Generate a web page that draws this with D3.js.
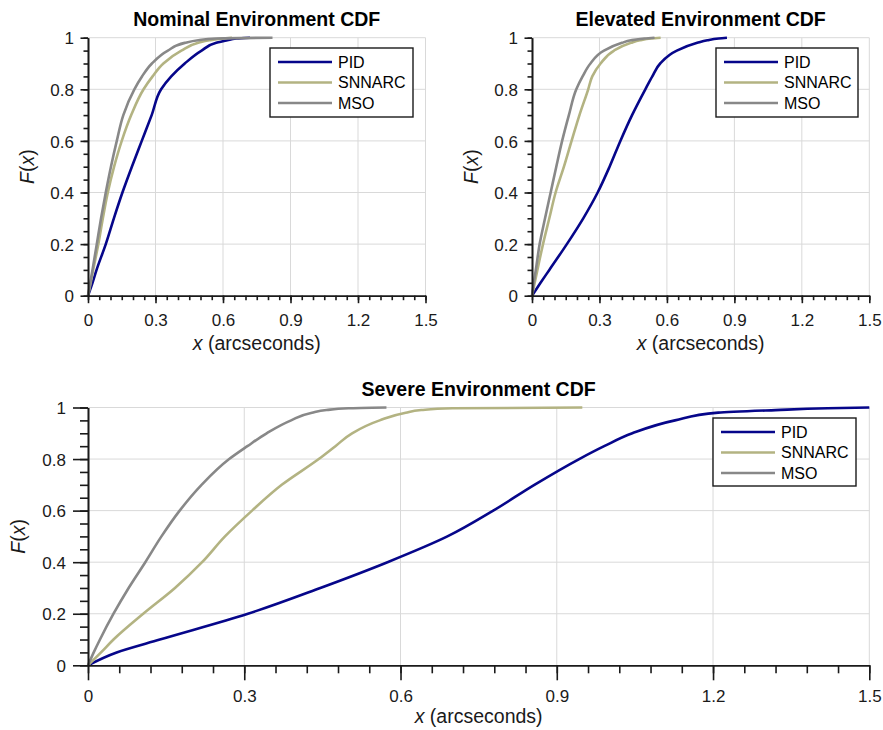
<!DOCTYPE html>
<html>
<head>
<meta charset="utf-8">
<script src="https://cdn.jsdelivr.net/npm/d3@7"></script>
<style>
  body { margin: 0; background: #fff; }
  svg { display: block; font-family: "Liberation Sans", Arial, Helvetica, sans-serif; }
  .grid line { stroke: #d9d9d9; stroke-width: 1; }
  .axis path, .axis line { stroke: #1a1a1a; stroke-width: 1.6; }
  .axis text { fill: #1a1a1a; font-size: 17px; }
</style>
</head>
<body>
<div id="chart"></div>
<script>
// cumulative probability levels, x at each level (arcseconds)
const fLevels = [0, 0.05, 0.1, 0.2, 0.3, 0.4, 0.5, 0.6, 0.7, 0.8, 0.85, 0.9, 0.95, 0.98, 0.99, 0.997, 1];

const nominalPID    = [0, 0.02, 0.038, 0.079, 0.115, 0.153, 0.195, 0.239, 0.283, 0.325, 0.37, 0.43, 0.505, 0.57, 0.62, 0.66, 0.72];
const nominalSNNARC = [0, 0.012, 0.023, 0.046, 0.066, 0.088, 0.116, 0.150, 0.192, 0.247, 0.287, 0.335, 0.415, 0.49, 0.54, 0.60, 0.64];
const nominalMSO    = [0, 0.01, 0.02, 0.039, 0.058, 0.079, 0.102, 0.128, 0.157, 0.206, 0.24, 0.284, 0.355, 0.43, 0.49, 0.57, 0.82];

const elevatedPID    = [0, 0.038, 0.077, 0.155, 0.228, 0.292, 0.345, 0.393, 0.445, 0.504, 0.535, 0.57, 0.644, 0.735, 0.78, 0.83, 0.867];
const elevatedSNNARC = [0, 0.012, 0.024, 0.049, 0.077, 0.105, 0.142, 0.176, 0.211, 0.25, 0.268, 0.305, 0.365, 0.44, 0.48, 0.53, 0.572];
const elevatedMSO    = [0, 0.008, 0.017, 0.034, 0.058, 0.083, 0.108, 0.134, 0.164, 0.197, 0.225, 0.26, 0.32, 0.40, 0.44, 0.50, 0.545];

const severePID    = [0, 0.055, 0.138, 0.307, 0.446, 0.575, 0.690, 0.778, 0.857, 0.943, 0.991, 1.045, 1.127, 1.21, 1.32, 1.42, 1.5];
const severeSNNARC = [0, 0.025, 0.049, 0.106, 0.167, 0.219, 0.263, 0.315, 0.372, 0.443, 0.475, 0.507, 0.56, 0.61, 0.64, 0.70, 0.949];
const severeMSO    = [0, 0.011, 0.023, 0.049, 0.078, 0.11, 0.141, 0.176, 0.218, 0.271, 0.306, 0.343, 0.39, 0.43, 0.458, 0.50, 0.573];

const seriesNames = ["PID", "SNNARC", "MSO"];
const seriesColors = ["#06068a", "#b3b382", "#888888"];

const xTicks = [0, 0.3, 0.6, 0.9, 1.2, 1.5];
const yTicks = [0, 0.2, 0.4, 0.6, 0.8, 1];
const yMinor = d3.range(0, 1.0001, 0.05);

const width = 883, height = 730;

const panels = [
  { title: "Nominal Environment CDF", series: [nominalPID, nominalSNNARC, nominalMSO],
    left: 88, right: 425.5, top: 37.7, bottom: 295.7, minorStep: 0.05, major: 7.5, minor: 4.5,
    titleDy: -12, xLabDy: 30, axisLabDy: 54, yLabDx: -14, yTitleDx: -61,
    legend: { x: 270, y: 48, w: 143, h: 69 } },
  { title: "Elevated Environment CDF", series: [elevatedPID, elevatedSNNARC, elevatedMSO],
    left: 532, right: 869.3, top: 37.7, bottom: 295.7, minorStep: 0.05, major: 7.5, minor: 4.5,
    titleDy: -12, xLabDy: 30, axisLabDy: 54, yLabDx: -14, yTitleDx: -61,
    legend: { x: 716, y: 48, w: 142, h: 69 } },
  { title: "Severe Environment CDF", series: [severePID, severeSNNARC, severeMSO],
    left: 88, right: 869.3, top: 407.5, bottom: 665.3, minorStep: 0.06, major: 15, minor: 8,
    titleDy: -11.5, xLabDy: 37, axisLabDy: 58, yLabDx: -22, yTitleDx: -70,
    legend: { x: 713, y: 418, w: 143, h: 68 } }
];

const svg = d3.select("#chart").append("svg")
  .attr("width", width)
  .attr("height", height);

svg.append("rect").attr("width", width).attr("height", height).attr("fill", "#fff");

const drawPanel = (p) => {
  const x = d3.scaleLinear().domain([0, 1.5]).range([p.left, p.right]);
  const y = d3.scaleLinear().domain([0, 1]).range([p.bottom, p.top]);
  const g = svg.append("g");

  // grid
  const grid = g.append("g").attr("class", "grid");
  grid.selectAll(".gx").data(xTicks.slice(1)).enter().append("line")
    .attr("x1", d => x(d)).attr("x2", d => x(d))
    .attr("y1", p.top).attr("y2", p.bottom);
  grid.selectAll(".gy").data(yTicks.slice(1)).enter().append("line")
    .attr("y1", d => y(d)).attr("y2", d => y(d))
    .attr("x1", p.left).attr("x2", p.right);

  // curves
  const line = d3.line()
    .x(d => x(d[0]))
    .y(d => y(d[1]))
    .curve(d3.curveMonotoneY);

  p.series.forEach((vals, i) => {
    g.append("path")
      .datum(vals.map((v, k) => [v, fLevels[k]]))
      .attr("fill", "none")
      .attr("stroke", seriesColors[i])
      .attr("stroke-width", 2.6)
      .attr("stroke-linejoin", "round")
      .attr("d", line);
  });

  // axes: minor ticks then labelled ones
  const xMinor = d3.range(0, 1.5001, p.minorStep);
  g.append("g").attr("class", "axis")
    .attr("transform", `translate(0,${p.bottom})`)
    .call(d3.axisBottom(x).tickValues(xMinor).tickFormat("").tickSizeInner(p.minor).tickSizeOuter(0));
  g.append("g").attr("class", "axis")
    .attr("transform", `translate(${p.left},0)`)
    .call(d3.axisLeft(y).tickValues(yMinor).tickFormat("").tickSizeInner(p.minor).tickSizeOuter(0));

  const xAxis = g.append("g").attr("class", "axis")
    .attr("transform", `translate(0,${p.bottom})`)
    .call(d3.axisBottom(x).tickValues(xTicks).tickFormat(d3.format("~g")).tickSizeInner(p.major).tickSizeOuter(0));
  xAxis.selectAll("text").attr("y", p.xLabDy).attr("dy", 0);

  const yAxis = g.append("g").attr("class", "axis")
    .attr("transform", `translate(${p.left},0)`)
    .call(d3.axisLeft(y).tickValues(yTicks).tickFormat(d3.format("~g")).tickSizeInner(p.major).tickSizeOuter(0));
  yAxis.selectAll("text").attr("x", p.yLabDx).attr("dy", "0.36em");

  // titles and labels
  const cx = (p.left + p.right) / 2;
  g.append("text")
    .attr("x", cx).attr("y", p.top + p.titleDy)
    .attr("text-anchor", "middle")
    .attr("font-size", 19.5).attr("font-weight", "bold").attr("fill", "#000")
    .text(p.title);

  const xl = g.append("text")
    .attr("x", cx).attr("y", p.bottom + p.axisLabDy)
    .attr("text-anchor", "middle").attr("font-size", 19.5).attr("fill", "#1a1a1a");
  xl.append("tspan").attr("font-style", "italic").text("x");
  xl.append("tspan").text(" (arcseconds)");

  const cy = (p.top + p.bottom) / 2;
  const yl = g.append("text")
    .attr("transform", `translate(${p.left + p.yTitleDx},${cy}) rotate(-90)`)
    .attr("text-anchor", "middle").attr("dy", "0.35em")
    .attr("font-size", 19.5).attr("fill", "#1a1a1a");
  yl.append("tspan").attr("font-style", "italic").text("F");
  yl.append("tspan").text("(");
  yl.append("tspan").attr("font-style", "italic").text("x");
  yl.append("tspan").text(")");

  // legend
  const L = p.legend;
  const lg = g.append("g").attr("transform", `translate(${L.x},${L.y})`);
  lg.append("rect")
    .attr("width", L.w).attr("height", L.h)
    .attr("fill", "#fff").attr("stroke", "#1a1a1a").attr("stroke-width", 1.4);
  seriesNames.forEach((name, i) => {
    const ry = 14 + i * 20.5;
    lg.append("line")
      .attr("x1", 8).attr("x2", 62).attr("y1", ry).attr("y2", ry)
      .attr("stroke", seriesColors[i]).attr("stroke-width", 2.6);
    lg.append("text")
      .attr("x", 68).attr("y", ry).attr("dy", "0.36em")
      .attr("font-size", 16).attr("fill", "#000")
      .text(name);
  });
};

panels.forEach(drawPanel);
</script>
</body>
</html>
